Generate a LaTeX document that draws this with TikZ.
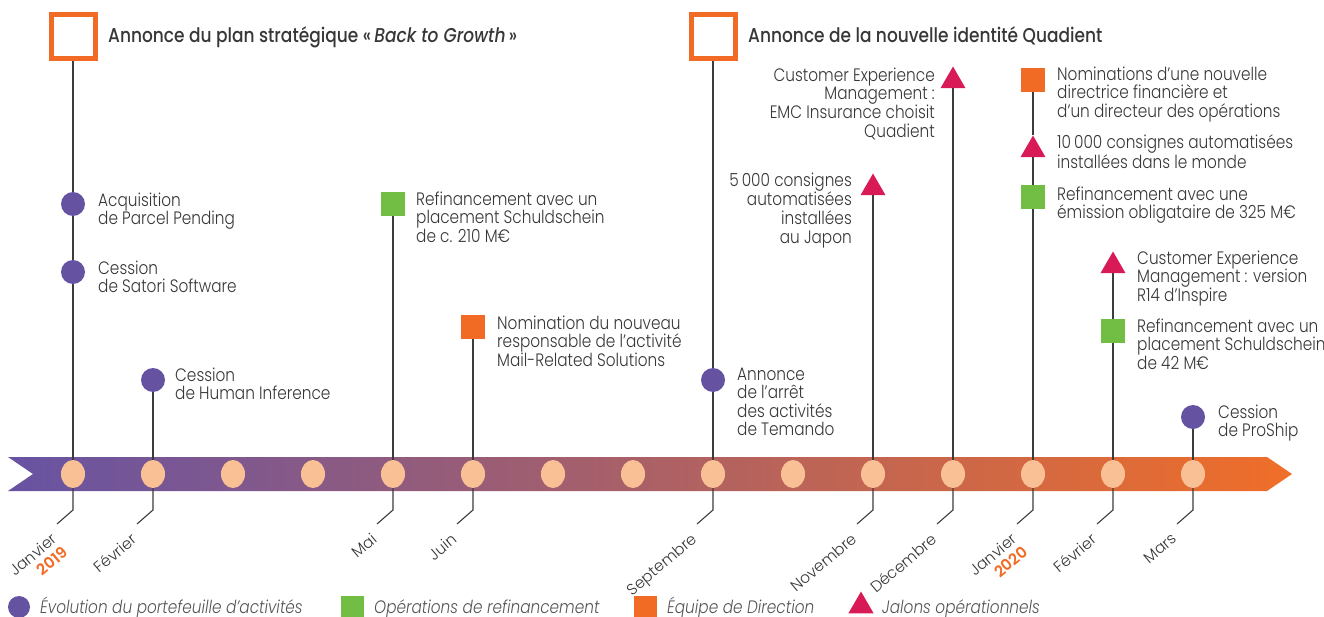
\documentclass[tikz,border=0pt]{standalone}
\usepackage{fontspec}
\setmainfont{Poppins}[UprightFont={* Light},ItalicFont={* Light Italic},BoldFont={* Medium},BoldItalicFont={* Medium Italic},FakeStretch=0.85]
\newfontfamily\monfont{Poppins}[UprightFont={* Light},BoldFont={* SemiBold}]
\usetikzlibrary{shapes.geometric}
\definecolor{qpurple}{RGB}{101,83,162}
\definecolor{qgreen}{RGB}{114,190,68}
\definecolor{qorange}{RGB}{241,107,36}
\definecolor{qred}{RGB}{216,27,87}
\definecolor{qpeach}{RGB}{249,192,150}
\definecolor{qtext}{RGB}{55,55,55}
\definecolor{qleg}{RGB}{85,85,85}
\definecolor{qline}{RGB}{60,60,60}
\definecolor{qbandl}{RGB}{103,83,163}
\definecolor{qbandr}{RGB}{240,110,40}
\newcommand{\yr}[1]{{\bfseries\color{qorange}#1}}

\begin{document}
\begin{tikzpicture}[x=1pt,y=-1pt,
  txt/.style={anchor=north west,inner sep=0pt,align=left,text=qtext,yshift=-3.5pt,
    font=\fontsize{18}{18.6}\selectfont,execute at begin node=\rule{0pt}{17pt}},
  rtxt/.style={txt,anchor=north east,align=right},
  title/.style={anchor=base west,inner sep=0pt,text=qtext,font=\fontsize{20}{22}\selectfont\bfseries},
  legtxt/.style={anchor=base west,inner sep=0pt,text=qleg,font=\fontsize{18}{20}\selectfont\itshape},
  mon/.style={rotate=40,anchor=north east,inner sep=1pt,align=right,text=qtext,xshift=-9pt,yshift=-1pt,
    font=\monfont\fontsize{15.5}{17}\selectfont},
  bigbox/.style={draw=qorange,line width=5pt,fill=white,minimum size=44pt,inner sep=0pt},
  pdot/.style={circle,fill=qpurple,minimum size=24pt,inner sep=0pt},
  gbox/.style={fill=qgreen,minimum size=24pt,inner sep=0pt},
  obox/.style={fill=qorange,minimum size=24pt,inner sep=0pt},
  rtri/.style={regular polygon,regular polygon sides=3,fill=qred,minimum size=29pt,inner sep=0pt},
  mdot/.style={ellipse,fill=qpeach,minimum width=24pt,minimum height=28pt,inner sep=0pt},
  stem/.style={draw=qline,line width=1.1pt}]
 \useasboundingbox (0,0) rectangle (1324,617);

 \shade[left color=qbandl,right color=qbandr] (8,457) -- (1267,457) -- (1292,474) -- (1267,491) -- (8,491) -- (33,474) -- cycle;
 \foreach \i in {1,...,15}
   \draw ({73+80*(\i-1)},474) node[mdot] (m\i) {};

 \draw (73,37) node[bigbox] (ann1) {};
 \draw (108,43) node[title] (ann1t) {Annonce du plan stratégique «\,\textit{Back to Growth}\,»};
 \draw (713,37) node[bigbox] (ann2) {};
 \draw (748,43) node[title] (ann2t) {Annonce de la nouvelle identité Quadient};

 \draw (73,204) node[pdot] (c1) {};
 \draw (98,189) node[txt] (c1t) {Acquisition\\de Parcel Pending};
 \draw (73,272) node[pdot] (c2) {};
 \draw (98,257) node[txt] (c2t) {Cession\\de Satori Software};
 \draw (153,380) node[pdot] (c3) {};
 \draw (175,364) node[txt] (c3t) {Cession\\de Human Inference};
 \draw (393,204) node[gbox] (g1) {};
 \draw (416,188) node[txt] (g1t) {Refinancement avec un\\placement Schuldschein\\de c. 210 M€};
 \draw (473,327) node[obox] (o1) {};
 \draw (497,312) node[txt] (o1t) {Nomination du nouveau\\responsable de l’activité\\Mail-Related Solutions};
 \draw (713,380) node[pdot] (c4) {};
 \draw (737,364) node[txt] (c4t) {Annonce\\de l’arrêt\\des activités\\de Temando};
 \draw (873,188) node[rtri] (r1) {};
 \draw (852,169) node[rtxt] (r1t) {5\,000 consignes\\automatisées\\installées\\au Japon};
 \draw (953,81) node[rtri] (r2) {};
 \draw (935,64) node[rtxt] (r2t) {Customer Experience\\Management :\\EMC Insurance choisit\\Quadient};
 \draw (1033,80) node[obox] (o2) {};
 \draw (1057,63) node[txt] (o2t) {Nominations d’une nouvelle\\directrice financière et\\d’un directeur des opérations};
 \draw (1033,150) node[rtri] (r3) {};
 \draw (1057,131) node[txt] (r3t) {10\,000 consignes automatisées\\installées dans le monde};
 \draw (1033,197) node[gbox] (g2) {};
 \draw (1057,183) node[txt] (g2t) {Refinancement avec une\\émission obligataire de 325 M€};
 \draw (1113,266) node[rtri] (r4) {};
 \draw (1137,247) node[txt] (r4t) {Customer Experience\\Management : version\\R14 d’Inspire};
 \draw (1113,331) node[gbox] (g3) {};
 \draw (1137,315) node[txt] (g3t) {Refinancement avec un\\placement Schuldschein\\de 42 M€};
 \draw (1193,417) node[pdot] (c5) {};
 \draw (1218,401) node[txt] (c5t) {Cession\\de ProShip};

 \draw[stem] (ann1) -- (c1) -- (c2) -- (m1);
 \draw[stem] (c3) -- (m2);
 \draw[stem] (g1) -- (m5);
 \draw[stem] (o1) -- (m6);
 \draw[stem] (ann2) -- (c4) -- (m9);
 \draw[stem] (r1) -- (m11);
 \draw[stem] (r2) -- (m12);
 \draw[stem] (o2) -- (r3) -- (g2) -- (m13);
 \draw[stem] (r4) -- (g3) -- (m14);
 \draw[stem] (c5) -- (m15);

 \foreach \i/\lab in {1/{Janvier\\\yr{2019}},2/Février,5/Mai,6/Juin,9/Septembre,
     11/Novembre,12/Décembre,13/{Janvier\\\yr{2020}},14/Février,15/Mars} {
   \pgfmathsetmacro\xm{73+80*(\i-1)}
   \coordinate (k\i) at (\xm,510);
   \coordinate (d\i) at (\xm-16,524);
   \draw[stem] (m\i) -- (k\i) -- (d\i);
   \draw (d\i) node[mon] (lab\i) {\lab};
 }

 \draw (19,607) node[pdot,minimum size=22pt] (lg1) {};
 \draw (40,613) node[legtxt] (lg1t) {Évolution du portefeuille d’activités};
 \draw (352,607) node[gbox,minimum size=23pt] (lg2) {};
 \draw (374,613) node[legtxt] (lg2t) {Opérations de refinancement};
 \draw (645,607) node[obox,minimum size=23pt] (lg3) {};
 \draw (667,613) node[legtxt] (lg3t) {Équipe de Direction};
 \draw (861,606) node[rtri] (lg4) {};
 \draw (882,613) node[legtxt] (lg4t) {Jalons opérationnels};
\end{tikzpicture}
\end{document}
